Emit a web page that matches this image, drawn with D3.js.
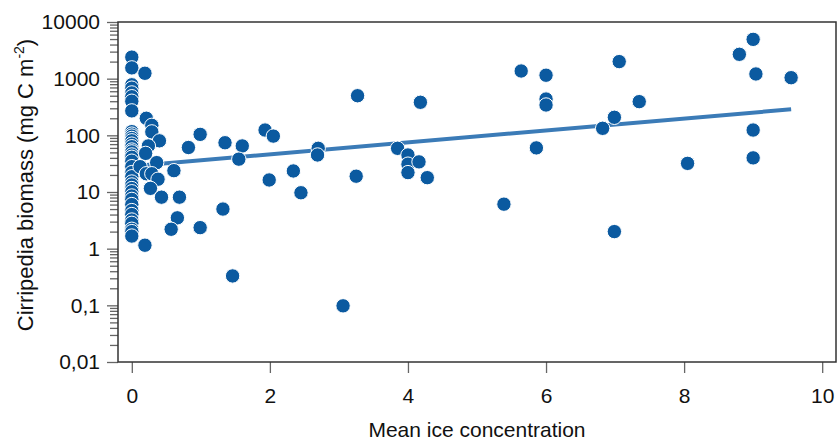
<!DOCTYPE html>
<html>
<head>
<meta charset="utf-8">
<script src="https://cdn.jsdelivr.net/npm/d3@7"></script>
<style>
  body { margin: 0; background: #fff; }
  svg { display: block; font-family: "Liberation Sans", Arial, Helvetica, sans-serif; }
</style>
</head>
<body>
<div class="chart"></div>
<script>
// mean ice concentration (x) and cirripedia biomass (y, mg C m-2)
const iceConc = [
  0, 0, 0, 0, 0, 0, 0, 0, 0, 0, 0, 0, 0, 0, 0, 0, 0, 0, 0,
  0, 0, 0, 0, 0, 0, 0, 0, 0, 0, 0, 0, 0, 0, 0, 0, 0, 0,
  0.19, 0.19, 0.21, 0.29, 0.29, 0.4, 0.24, 0.2, 0.36, 0.12, 0.21, 0.29, 0.38,
  0.27, 0.43, 0.69, 0.61, 0.82, 0.99, 1.35, 1.6, 1.55, 1.32, 0.66, 0.57, 0.99, 1.46,
  1.93, 2.05, 1.99, 2.34, 2.45, 2.7, 2.69, 3.27, 3.25, 3.06,
  4.18, 3.85, 4.0, 4.0, 4.0, 4.16, 4.28,
  5.64, 6.0, 6.0, 6.0, 7.06, 7.35, 6.99, 6.82, 5.86, 5.39, 6.99,
  8.8, 9.0, 9.04, 9.55, 9.0, 9.0, 8.05
]
const biomass = [
  2400, 1550, 780, 680, 560, 480, 400, 270, 116, 105, 97, 88, 80, 70, 63, 55, 51, 45, 41,
  35, 28, 22, 18.6, 15, 13.3, 11.5, 10.1, 8.5, 7.4, 6, 4.7, 4.0, 3.2, 2.8, 2.2, 2.0, 1.67,
  1.15, 1245, 200, 150, 115, 80, 65, 48, 33, 28, 21, 21, 16.8,
  11.6, 8.1, 8.1, 23.8, 61, 104, 74, 65, 38, 5.0, 3.5, 2.2, 2.35, 0.33,
  124, 97, 16.3, 23.5, 9.7, 59, 45, 500, 19, 0.098,
  383, 59, 45, 31, 22, 34, 17.9,
  1365, 1150, 437, 343, 2000, 393, 208, 133, 60, 6.1, 2.0,
  2690, 4940, 1210, 1040, 124, 40, 32
]

// fitted trend line endpoints
const fitX = [0, 9.55]
const fitY = [28.5, 288]

const xTicks = [0, 2, 4, 6, 8, 10]
const yTicks = [10000, 1000, 100, 10, 1, 0.1, 0.01]
const yTickLabels = ["10000", "1000", "100", "10", "1", "0,1", "0,01"]

const W = 839, H = 444
const plot = {left: 118, right: 836, top: 22, bottom: 362}

const svg = d3.select(".chart").append("svg")
  .attr("width", W)
  .attr("height", H)

const x = d3.scaleLinear().domain([-0.2, 10.2]).range([plot.left, plot.right])
const y = d3.scaleLog().domain([0.01, 10000]).range([plot.bottom, plot.top])

// minor log ticks
const minor = []
for (let e = -2; e < 4; e++) {
  for (let m = 2; m <= 9; m++) minor.push(m * Math.pow(10, e))
}

const yMinor = svg.append("g")
  .attr("transform", "translate(" + plot.left + ",0)")
  .call(d3.axisLeft(y).tickValues(minor).tickSize(8).tickFormat(""))
yMinor.select(".domain").remove()

const yAxis = svg.append("g")
  .attr("transform", "translate(" + plot.left + ",0)")
  .call(d3.axisLeft(y).tickValues(yTicks).tickSize(11).tickPadding(7)
    .tickFormat(function(d, i){ return yTickLabels[i] }))
yAxis.select(".domain").remove()

const xAxis = svg.append("g")
  .attr("transform", "translate(0," + plot.bottom + ")")
  .call(d3.axisBottom(x).tickValues(xTicks).tickSize(11).tickPadding(15))
xAxis.select(".domain").remove()

svg.selectAll(".tick line").attr("stroke", "#666").attr("stroke-width", 1.3)
svg.selectAll(".tick text")
  .attr("font-size", "21px")
  .attr("fill", "#111")
  .attr("font-family", "Liberation Sans, Arial, Helvetica, sans-serif")

// frame
svg.append("rect")
  .attr("x", plot.left)
  .attr("y", plot.top)
  .attr("width", plot.right - plot.left)
  .attr("height", plot.bottom - plot.top)
  .attr("fill", "none")
  .attr("stroke", "#333")
  .attr("stroke-width", 1.5)

// trend line
const fit = fitX.map(function(d, i){ return [d, fitY[i]] })
svg.append("path")
  .datum(fit)
  .attr("d", d3.line().x(function(d){ return x(d[0]) }).y(function(d){ return y(d[1]) }))
  .attr("fill", "none")
  .attr("stroke", "#3b7bb7")
  .attr("stroke-width", 4)

// points
const pts = iceConc.map(function(d, i){ return {ice: d, bio: biomass[i]} })
svg.append("g").selectAll("circle")
  .data(pts)
  .enter()
  .append("circle")
  .attr("cx", function(d){ return x(d.ice) })
  .attr("cy", function(d){ return y(d.bio) })
  .attr("r", 7.2)
  .attr("fill", "#0b5aa0")
  .attr("stroke", "#fff")
  .attr("stroke-width", 1)

// X label
svg.append("text")
  .attr("x", (plot.left + plot.right) / 2)
  .attr("y", 437)
  .attr("text-anchor", "middle")
  .attr("font-size", "21px")
  .attr("fill", "#111")
  .text("Mean ice concentration")

// Y label
const yl = svg.append("text")
  .attr("transform", "translate(33,185) rotate(-90)")
  .attr("text-anchor", "middle")
  .attr("font-size", "22px")
  .attr("fill", "#111")
yl.append("tspan").text("Cirripedia biomass (mg C m")
yl.append("tspan").attr("dy", -9).attr("font-size", "14px").text("-2")
yl.append("tspan").attr("dy", 9).text(")")
</script>
</body>
</html>
